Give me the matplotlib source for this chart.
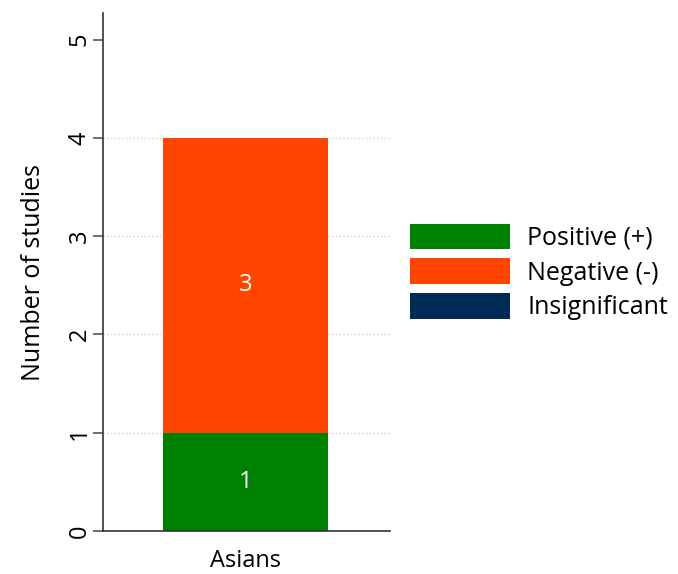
import matplotlib
matplotlib.use("Agg")
import matplotlib.pyplot as plt

plt.rcParams["font.family"] = ["Open Sans", "DejaVu Sans"]

groups = ["Asians"]
categories = ["Positive (+)", "Negative (-)", "Insignificant"]
positive = [1]
negative = [3]
insignificant = [0]
colors = ["#008000", "#FF4500", "#002B55"]
yticks = [0, 1, 2, 3, 4, 5]

fig = plt.figure(figsize=(6.78, 5.74), dpi=100)
ax = fig.add_axes([0.152, 0.075, 0.423, 0.902])

x = list(range(len(groups)))
series = [positive, negative, insignificant]
bottoms = [0] * len(groups)
handles = []
for vals, col, name in zip(series, colors, categories):
    h = ax.bar(x, vals, width=1.0, bottom=bottoms, color=col, label=name, zorder=2)
    handles.append(h)
    for xi, v, b in zip(x, vals, bottoms):
        if v > 0:
            ax.text(xi, b + v / 2, str(v), ha="center", va="center",
                    color="white", fontsize=17, zorder=3)
    bottoms = [b + v for b, v in zip(bottoms, vals)]

top = max(bottoms)
for t in yticks:
    if 0 < t <= top:
        ax.axhline(t, color="#cccccc", linestyle=(0, (1, 2)), linewidth=0.9, zorder=1)

ax.set_xlim(-0.864, 0.876)
ax.set_ylim(0, 5.27)
ax.set_yticks(yticks)
ax.set_yticklabels([str(t) for t in yticks], rotation=90, va="center", fontsize=17)
ax.set_xticks(x)
ax.set_xticklabels(groups, fontsize=17)
ax.tick_params(axis="x", length=0, pad=13)
ax.tick_params(axis="y", length=7, width=1.2, color="#555555", pad=1)
ax.set_ylabel("Number of studies", fontsize=18, labelpad=16)

for s in ["top", "right"]:
    ax.spines[s].set_visible(False)
for s in ["left", "bottom"]:
    ax.spines[s].set_color("#333333")
    ax.spines[s].set_linewidth(1.2)

ax.legend(handles=handles, loc="center left", bbox_to_anchor=(1.07, 0.5),
          frameon=False, fontsize=18, handlelength=4.0, handleheight=1.2,
          labelspacing=0.3, handletextpad=0.7, borderaxespad=0, borderpad=0)

fig.savefig("out.png", dpi=100)
